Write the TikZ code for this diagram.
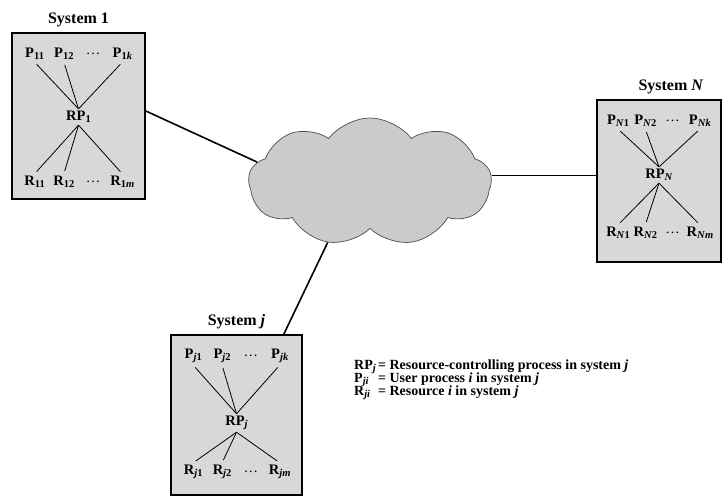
\documentclass[tikz,border=0pt]{standalone}
\usepackage{fontspec}
\setmainfont{Liberation Serif}
\usetikzlibrary{positioning, shapes.symbols}
\definecolor{boxgray}{RGB}{216,216,216}
\definecolor{cloudgray}{RGB}{203,203,203}
\tikzset{
	sysframe/.style={
		draw,
		line width=1.6pt,
		fill=boxgray,
		inner sep=0pt,
	},
	item/.style={
		font=\fontsize{14.5}{16}\selectfont\bfseries,
		inner sep=2pt,
	},
	title/.style={
		font=\fontsize{16}{18}\selectfont\bfseries,
		inner sep=1pt,
	},
	link/.style={
		line width=0.8pt,
	},
	wire/.style={
		line width=1.6pt,
	},
	net/.style={
		cloud,
		cloud puffs=9,
		cloud puff arc=105,
		aspect=1.9,
		draw=black!70,
		fill=cloudgray,
		line width=0.7pt,
		inner sep=0pt,
	},
}
\newcommand{\subidx}[1]{\raisebox{-0.35ex}{\fontsize{10.5}{11}\selectfont#1}}
% #1 name, #2 index, #3-#6 box corners, #7 y of RP, #8 y of R row
\newcommand{\sysbox}[8]{%
	\node [sysframe, minimum width={(#5-#3)*1pt}, minimum height={(#6-#4)*1pt}] (#1) at ({(#3+#5)/2},{(#4+#6)/2}) {};
	\node [item] (#1p1) at ({#3+0.17*(#5-#3)},{#4+21}) {P\subidx{#21}};
	\node [item] (#1p2) at ({#3+0.39*(#5-#3)},{#4+21}) {P\subidx{#22}};
	\node [item] (#1pd) at ({#3+0.61*(#5-#3)},{#4+21}) {\mdseries\dots};
	\node [item] (#1pk) at ({#3+0.83*(#5-#3)},{#4+21}) {P\subidx{#2\textit{k}}};
	\node [item] (#1rp) at ({#3+0.5*(#5-#3)},#7) {RP\subidx{#2}};
	\node [item] (#1r1) at ({#3+0.17*(#5-#3)},#8) {R\subidx{#21}};
	\node [item] (#1r2) at ({#3+0.39*(#5-#3)},#8) {R\subidx{#22}};
	\node [item] (#1rd) at ({#3+0.61*(#5-#3)},#8) {\mdseries\dots};
	\node [item] (#1rm) at ({#3+0.83*(#5-#3)},#8) {R\subidx{#2\textit{m}}};
	\draw [link, shorten <=3pt] (#1p1.south) -- (#1rp.north);
	\draw [link, shorten <=3pt] (#1p2.south) -- (#1rp.north);
	\draw [link, shorten <=3pt] (#1pk.south) -- (#1rp.north);
	\draw [link, shorten >=3pt] (#1rp.south) -- (#1r1.north);
	\draw [link, shorten >=3pt] (#1rp.south) -- (#1r2.north);
	\draw [link, shorten >=3pt] (#1rp.south) -- (#1rm.north);
}
\begin{document}
\begin{tikzpicture}[x=1pt, y=-1pt]
	\useasboundingbox (0,0) rectangle (723,497);

	% Systems
	\sysbox{s1}{1}{12}{33}{145}{199}{117}{182}
	\sysbox{sn}{\textit{N}}{597}{100}{721}{262}{175}{233}
	\sysbox{sj}{\textit{j}}{171}{335}{302}{495}{423}{472}

	\node [title, above=4pt of s1] {System 1};
	\node [title, above=4pt of sn, xshift=12pt] {System \textit{N}};
	\node [title, above=4pt of sj] {System \textit{j}};

	% Network
	\node [net, minimum width=243pt, minimum height=128pt] (cloud) at (370,182) {};

	\draw [wire] ([yshift=5pt]s1.east) -- (cloud.170);
	\draw [wire] (cloud.3) -- (cloud.3 -| sn.west);
	\draw [wire] (cloud.235) -- ([xshift=-19pt]sj.north east);

	% Key
	\node [item, anchor=north west, font=\fontsize{14}{15}\selectfont\bfseries] (key) at (352,357) {%
		\begin{tabular}{@{}l@{\,}l@{}}
			RP\subidx{\textit{j}} & = Resource-controlling process in system \textit{j}\\[-2pt]
			P\subidx{\textit{ji}} & = User process \textit{i} in system \textit{j}\\[-2pt]
			R\subidx{\textit{ji}} & = Resource \textit{i} in system \textit{j}
		\end{tabular}};
\end{tikzpicture}
\end{document}
